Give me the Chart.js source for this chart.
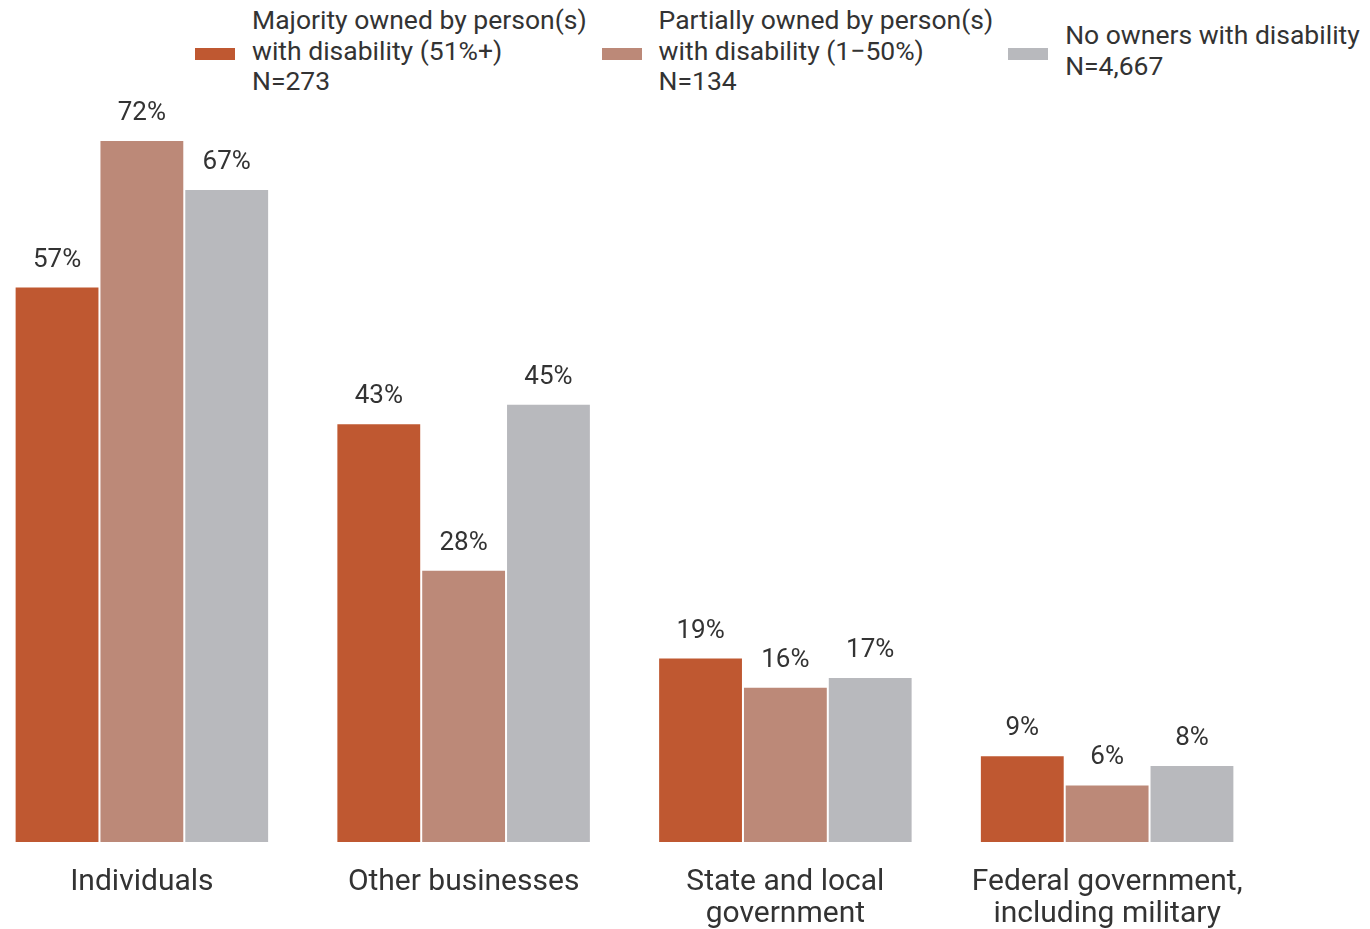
<!DOCTYPE html>
<html>
<head>
<meta charset="utf-8">
<script src="https://cdn.jsdelivr.net/npm/chart.js@4.4.1/dist/chart.umd.min.js"></script>
<style>
  html, body { margin: 0; padding: 0; background: #fff; overflow: hidden; }
  body { width: 1370px; height: 929px; position: relative; font-family: Roboto, sans-serif; color: #333; }
  #legend { position: absolute; left: 195px; top: 5px; display: flex; gap: 15px; }
  .item { display: flex; align-items: center; }
  .swatch { width: 40px; height: 12px; margin-right: 17px; margin-top: 6px; flex: none; }
  .label { font-size: 26.5px; line-height: 30.5px; white-space: nowrap; }
  #wrap { position: absolute; left: -19px; top: 0; width: 1287px; height: 929px; }
</style>
</head>
<body>
<div id="legend"></div>
<div id="wrap"><canvas id="mycanvas"></canvas></div>
<script>
var categories = [['Individuals'], ['Other businesses'], ['State and local', 'government'], ['Federal government,', 'including military']]
var seriesNames = [
    ['Majority owned by person(s)', 'with disability (51%+)', 'N=273'],
    ['Partially owned by person(s)', 'with disability (1\u221250%)', 'N=134'],
    ['No owners with disability', 'N=4,667']
]
var majority = [57, 43, 19, 9]
var partially = [72, 28, 16, 6]
var noOwners = [67, 45, 17, 8]
var colors = ['#bf5831', '#bc8978', '#b8b9bd']

// html legend, built from the series names and colours
var legend = document.getElementById('legend')
seriesNames.forEach(function(lines, i){
    var item = document.createElement('div')
    item.className = 'item'
    var sw = document.createElement('div')
    sw.className = 'swatch'
    sw.style.background = colors[i]
    var txt = document.createElement('div')
    txt.className = 'label'
    txt.innerHTML = lines.join('<br>')
    item.appendChild(sw)
    item.appendChild(txt)
    legend.appendChild(item)
})

var valueLabels = {
    id: 'valueLabels',
    afterDatasetsDraw: function(chart){
        var ctx = chart.ctx
        ctx.save()
        ctx.font = '26px Roboto'
        ctx.fillStyle = '#333'
        ctx.textAlign = 'center'
        ctx.textBaseline = 'alphabetic'
        chart.data.datasets.forEach(function(ds, i){
            chart.getDatasetMeta(i).data.forEach(function(bar, j){
                ctx.fillText(ds.data[j] + '%', bar.x, bar.y - 20)
            })
        })
        ctx.restore()
    }
}

var context = document.getElementById('mycanvas').getContext('2d')
var chart = new Chart(context, {
    type: 'bar',
    data: {
        labels: categories,
        datasets: [
            { label: seriesNames[0].join(' '), data: majority, backgroundColor: colors[0] },
            { label: seriesNames[1].join(' '), data: partially, backgroundColor: colors[1] },
            { label: seriesNames[2].join(' '), data: noOwners, backgroundColor: colors[2] }
        ].map(function(d){
            d.borderColor = '#fff'
            d.borderWidth = 1
            d.borderSkipped = false
            d.categoryPercentage = 0.791
            d.barPercentage = 1
            return d
        })
    },
    options: {
        responsive: true,
        maintainAspectRatio: false,
        animation: false,
        layout: { padding: { top: 62, bottom: -17, left: 0, right: 0 } },
        plugins: { legend: { display: false }, tooltip: { enabled: false } },
        scales: {
            x: {
                grid: { display: false },
                border: { display: false },
                ticks: {
                    autoSkip: false, maxRotation: 0, padding: 16, color: '#333',
                    font: { family: 'Roboto', size: 30, lineHeight: 1.05 }
                }
            },
            y: { display: false, min: 0, max: 80 }
        }
    },
    plugins: [valueLabels]
})
</script>
</body>
</html>
